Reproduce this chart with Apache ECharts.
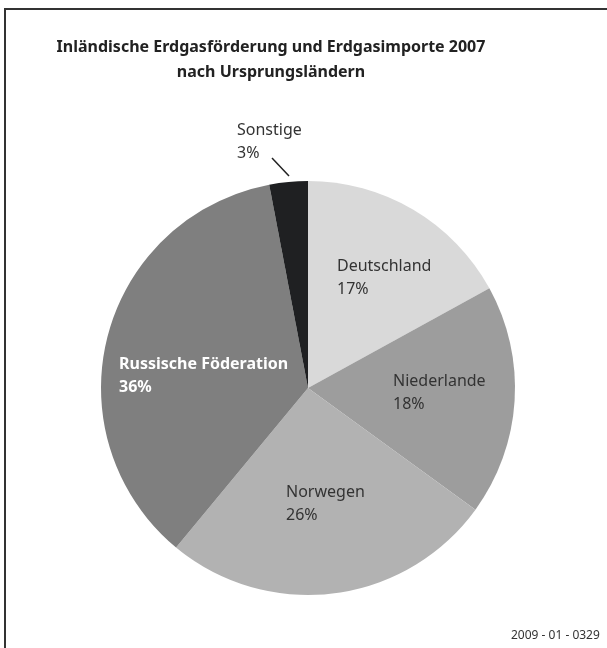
<!DOCTYPE html>
<html>
<head>
<meta charset="utf-8">
<script src="https://cdn.jsdelivr.net/npm/echarts@6/dist/echarts.min.js"></script>
<style>
  html, body { margin: 0; padding: 0; background: #ffffff; }
  #chart { width: 607px; height: 648px; }
</style>
</head>
<body>
<div id="chart"></div>
<script>
// Herkunft des in Deutschland verfügbaren Erdgases 2007 (Anteile in %)
const countries = ['Deutschland', 'Niederlande', 'Norwegen', 'Russische Föderation', 'Sonstige'];
const shares = [17, 18, 26, 36, 3];
const sliceColors = ['#d9d9d9', '#9d9d9d', '#b2b2b2', '#7f7f7f', '#1f2022'];
const labelColors = ['#333333', '#333333', '#333333', '#ffffff', '#333333'];

const titleText = 'Inländische Erdgasförderung und Erdgasimporte 2007\nnach Ursprungsländern';
const sourceText = '2009 - 01 - 0329';

// label anchors (left / vertical middle of the first line) for each slice
const labelAnchors = [
  [337, 266],
  [393, 381],
  [286, 492],
  [119, 364],
  [237, 130]
];

const FONT = '"Noto Sans", sans-serif';

const chart = echarts.init(document.getElementById('chart'), null, { renderer: 'canvas' });

chart.setOption({
  backgroundColor: '#ffffff',
  animation: false,
  title: [
    {
      text: titleText,
      left: 266,
      top: 30,
      textAlign: 'center',
      textStyle: {
        fontFamily: FONT,
        fontWeight: 'bold',
        fontSize: 16,
        lineHeight: 25,
        color: '#222222'
      }
    },
    {
      text: sourceText,
      left: 506,
      top: 625,
      textStyle: {
        fontFamily: FONT,
        fontWeight: 'normal',
        fontSize: 12,
        color: '#333333'
      }
    }
  ],
  graphic: [
    {
      // outer frame, open towards the right and bottom edges
      type: 'rect',
      shape: { x: 5, y: 9, width: 800, height: 800 },
      style: { fill: 'none', stroke: '#333333', lineWidth: 2 },
      silent: true
    },
    {
      // leader line from the small slice to its label
      type: 'line',
      shape: { x1: 289, y1: 176, x2: 272, y2: 158 },
      style: { stroke: '#222222', lineWidth: 1.5 },
      silent: true
    }
  ],
  series: [
    {
      type: 'pie',
      center: [308, 388],
      radius: 207,
      startAngle: 90,
      clockwise: true,
      avoidLabelOverlap: false,
      itemStyle: { borderWidth: 0 },
      label: {
        show: true,
        position: 'inside',
        fontFamily: FONT,
        fontSize: 16,
        lineHeight: 23,
        formatter: (p) => p.name + '\n' + p.value + '%'
      },
      labelLine: { show: false },
      labelLayout: (params) => {
        const a = labelAnchors[params.dataIndex];
        return {
          x: a[0],
          y: a[1] - 11.5,
          align: 'left',
          verticalAlign: 'top'
        };
      },
      data: countries.map((name, i) => ({
        name: name,
        value: shares[i],
        itemStyle: { color: sliceColors[i] },
        label: {
          color: labelColors[i],
          fontWeight: i === 3 ? 'bold' : 'normal'
        }
      })),
      emphasis: { disabled: true }
    }
  ]
});
</script>
</body>
</html>
